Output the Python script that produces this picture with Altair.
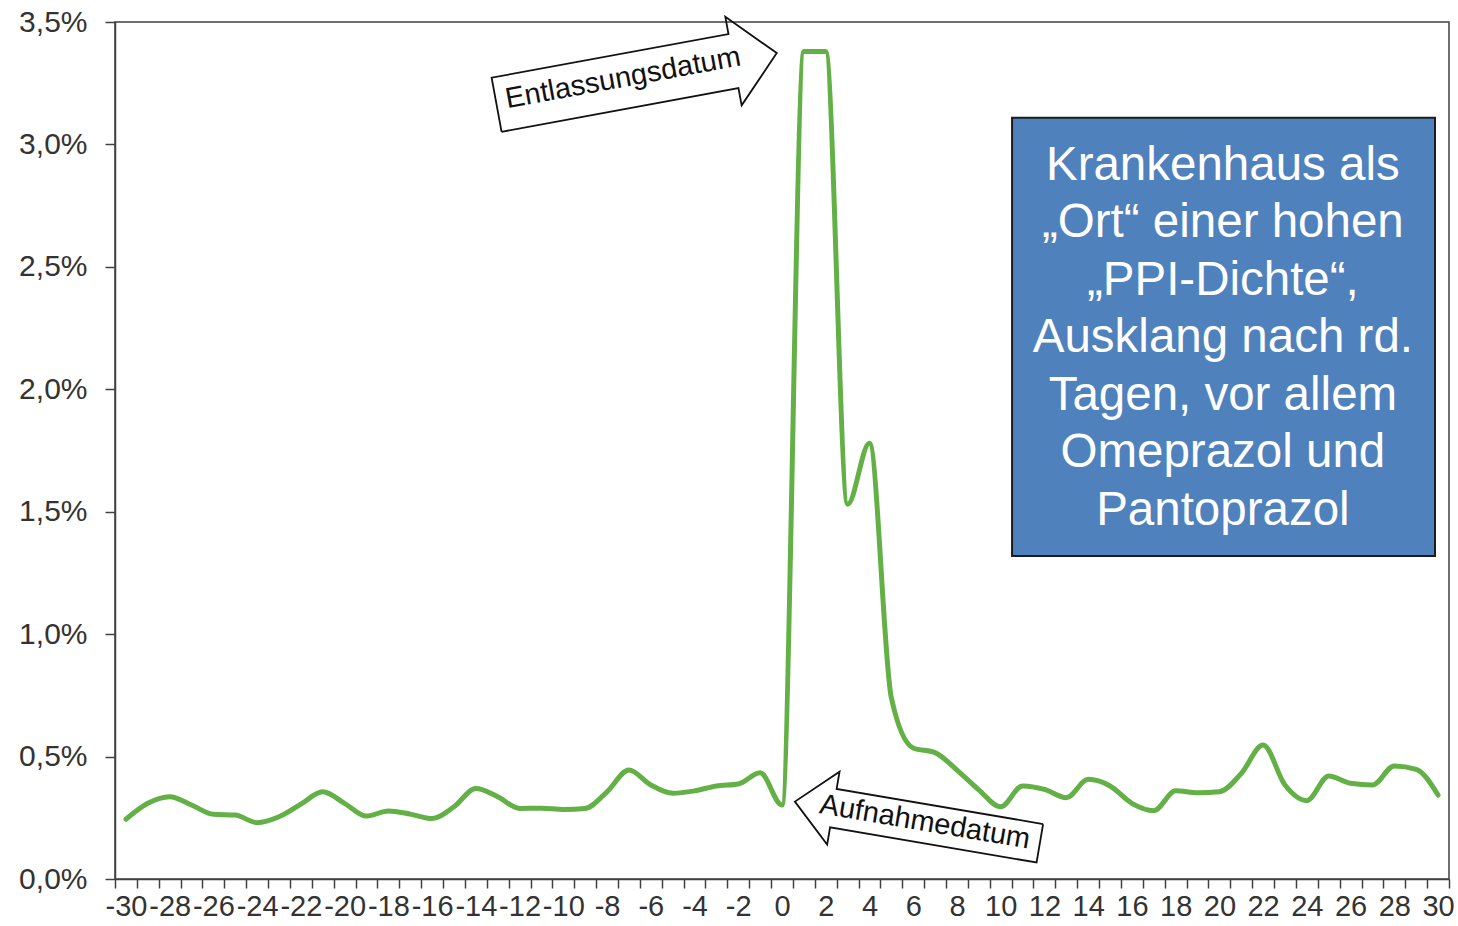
import math
import altair as alt
import pandas as pd

# Daily PPI share around a hospital stay (day 0 = admission, day 1/2 = discharge)
days = list(range(-30, 31))
share_pct = [
    0.244, 0.309, 0.336, 0.302, 0.264, 0.261, 0.230, 0.254, 0.306, 0.356,
    0.309, 0.257, 0.278, 0.265, 0.247, 0.295, 0.370,
    0.336, 0.288, 0.289, 0.284, 0.288, 0.356, 0.445, 0.384, 0.350, 0.360,
    0.380, 0.388, 0.434,
    0.302,
    3.38, 3.38, 1.53, 1.78, 0.74, 0.535, 0.516, 0.445, 0.364, 0.295,
    0.380, 0.366, 0.332, 0.407, 0.380, 0.309, 0.279, 0.360, 0.352, 0.356,
    0.431, 0.547, 0.384, 0.320, 0.421, 0.391, 0.384, 0.462, 0.448, 0.343,
]

y_ticks = [0, 0.5, 1.0, 1.5, 2.0, 2.5, 3.0, 3.5]
x_bounds = [d - 0.5 for d in days] + [30.5]

box_lines = [
    "Krankenhaus als",
    "\u201eOrt\u201c einer hohen",
    "\u201ePPI-Dichte\u201c,",
    "Ausklang nach rd.",
    "Tagen, vor allem",
    "Omeprazol und",
    "Pantoprazol",
]

W, H = 1334, 857
X_MIN, X_MAX = -30.5, 30.5
Y_MAX = 3.5
PX_DAY = W / (X_MAX - X_MIN)
PX_PCT = H / Y_MAX
FONT = "Liberation Sans"
LINE_GREEN = "#62b046"
AXIS_GREY = "#404040"


def to_px(day, pct):
    return (day - X_MIN) * PX_DAY, (Y_MAX - pct) * PX_PCT


def to_data(px, py):
    return px / PX_DAY + X_MIN, Y_MAX - py / PX_PCT


def arrow_outline(name, tail, tip, shaft_half, head_half, head_len):
    """Block-arrow outline (in data units) from tail centre to tip."""
    tx, ty = to_px(*tail)
    hx, hy = to_px(*tip)
    length = math.hypot(hx - tx, hy - ty)
    ux, uy = (hx - tx) / length, (hy - ty) / length
    nx, ny = -uy, ux
    neck_x, neck_y = hx - ux * head_len, hy - uy * head_len
    pts = [
        (tx + nx * shaft_half, ty + ny * shaft_half),
        (neck_x + nx * shaft_half, neck_y + ny * shaft_half),
        (neck_x + nx * head_half, neck_y + ny * head_half),
        (hx, hy),
        (neck_x - nx * head_half, neck_y - ny * head_half),
        (neck_x - nx * shaft_half, neck_y - ny * shaft_half),
        (tx - nx * shaft_half, ty - ny * shaft_half),
        (tx + nx * shaft_half, ty + ny * shaft_half),
    ]
    rows = []
    for i, (px, py) in enumerate(pts):
        d, p = to_data(px, py)
        rows.append({"arrow": name, "i": i, "day": d, "pct": p})
    return rows


arrows = pd.DataFrame(
    arrow_outline("entlassung", (-13.05, 3.162), (-0.24, 3.373), 27.5, 45, 44)
    + arrow_outline("aufnahme", (11.79, 0.146), (0.59, 0.316), 19.5, 37, 39)
)

line_df = pd.DataFrame({"day": days, "pct": share_pct})

x_enc = alt.X(
    "day:Q",
    scale=alt.Scale(domain=[X_MIN, X_MAX], nice=False, zero=False),
    axis=alt.Axis(
        values=x_bounds,
        tickCount=100,
        labelExpr="(datum.value + 0.5) % 2 == 0 ? '' + (datum.value + 0.5) : ''",
        labelOffset=PX_DAY / 2,
        labelOverlap=False,
        labelFlush=False,
        labelBound=False,
        grid=False,
        title=None,
        tickSize=9,
        tickColor=AXIS_GREY,
        tickWidth=1.5,
        domainColor=AXIS_GREY,
        domainWidth=1.5,
        labelFont=FONT,
        labelFontSize=29,
        labelColor="#333333",
        labelPadding=4,
    ),
)
y_enc = alt.Y(
    "pct:Q",
    scale=alt.Scale(domain=[0, Y_MAX], nice=False),
    axis=alt.Axis(
        values=y_ticks,
        labelExpr="replace(format(datum.value, '.1f'), '.', ',') + '%'",
        grid=False,
        title=None,
        tickSize=10,
        tickColor=AXIS_GREY,
        tickWidth=1.5,
        domainColor=AXIS_GREY,
        domainWidth=1.5,
        labelFont=FONT,
        labelFontSize=30,
        labelColor="#333333",
        labelPadding=18,
    ),
)

series = alt.Chart(line_df).mark_line(
    interpolate="monotone", color=LINE_GREEN, strokeWidth=5, strokeCap="round",
    strokeJoin="round",
).encode(x=x_enc, y=y_enc)

arrow_marks = alt.Chart(arrows).mark_line(
    color="#111111", strokeWidth=1.8, strokeJoin="miter"
).encode(
    x=alt.X("day:Q"),
    y=alt.Y("pct:Q"),
    detail="arrow:N",
    order="i:Q",
)

labels_df = pd.DataFrame(
    {
        "day": [-7.27, 6.54],
        "pct": [3.272, 0.233],
        "txt": ["Entlassungsdatum", "Aufnahmedatum"],
    }
)
entl = alt.Chart(labels_df.iloc[[0]]).mark_text(
    font=FONT, fontSize=29, color="#111111", angle=349.6, align="center", baseline="middle"
).encode(x="day:Q", y="pct:Q", text="txt:N")
aufn = alt.Chart(labels_df.iloc[[1]]).mark_text(
    font=FONT, fontSize=29, color="#111111", angle=9.6, align="center", baseline="middle"
).encode(x="day:Q", y="pct:Q", text="txt:N")

# Comment box on the right
box_df = pd.DataFrame({"x1": [10.52], "x2": [29.86], "y1": [1.319], "y2": [3.109]})
box = alt.Chart(box_df).mark_rect(
    fill="#4f81bd", stroke="#1c1c1c", strokeWidth=2
).encode(x="x1:Q", x2="x2:Q", y="y1:Q", y2="y2:Q")

# first line anchored at its own centre; following lines flow downwards
box_text_df = pd.DataFrame({"day": [20.16], "pct": [2.913], "txt": ["\n".join(box_lines)]})
box_text = alt.Chart(box_text_df).mark_text(
    font=FONT,
    fontSize=47.5,
    color="white",
    align="center",
    baseline="middle",
    lineBreak="\n",
    lineHeight=57.5,
).encode(x="day:Q", y="pct:Q", text="txt:N")

chart = (
    alt.layer(series, arrow_marks, entl, aufn, box, box_text)
    .properties(
        width=W,
        height=H,
        autosize=alt.AutoSizeParams(type="none"),
        padding={"left": 115, "top": 22, "right": 9, "bottom": 47},
        background="white",
    )
    .configure_view(stroke=AXIS_GREY, strokeWidth=1.5)
)

chart.save("out.html", embed_options={"renderer": "svg", "actions": False})
